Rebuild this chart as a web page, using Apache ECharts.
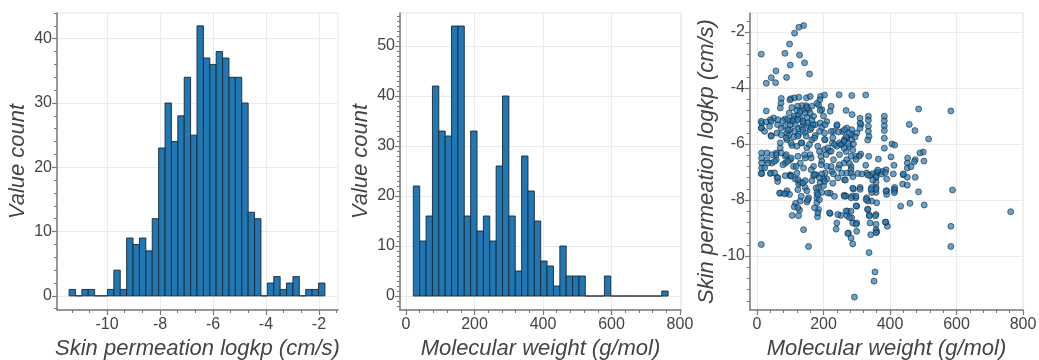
<!DOCTYPE html>
<html>
<head>
<meta charset="utf-8">
<script src="https://cdn.jsdelivr.net/npm/echarts@6/dist/echarts.min.js"></script>
<style>
html, body { margin: 0; background: #fff; }
#chart { width: 1039px; height: 360px; }
</style>
</head>
<body>
<div id="chart"></div>
<script>
// histogram 1: skin permeation logkp, 40 bins
var logkpBinStart = -11.434;
var logkpBinWidth = 0.2415;
var logkpCounts = [1, 0, 1, 1, 0, 0, 1, 4, 1, 9, 8, 9, 7, 12, 23, 30, 24, 28, 34, 25,
  42, 37, 36, 38, 37, 34, 34, 30, 13, 12, 0, 2, 3, 1, 2, 3, 0, 1, 1, 2];

// histogram 2: molecular weight, 40 bins
var mwBinStart = 21.4;
var mwBinWidth = 18.6;
var mwCounts = [22, 11, 16, 42, 33, 32, 54, 54, 16, 33, 13, 16, 11, 26, 40, 16, 5, 28, 21, 15,
  7, 6, 2, 10, 4, 4, 4, 0, 0, 0, 4, 0, 0, 0, 0, 0, 0, 0, 0, 1];

// scatter: [molecular weight, logkp]
var scatterPoints = [
  [140,-1.77],[126,-1.83],[113,-2.04],[98,-2.43],[13,-2.79],[84,-2.76],[128,-2.82],[100,-3.18],[143,-3.1],[57,-3.39],
  [158,-3.5],[43,-3.63],[89,-3.62],[28,-3.83],[56,-3.81],
  [73,-4.37],[102,-4.38],[113,-4.35],[126,-4.33],[149,-4.35],[160,-4.3],[191,-4.3],[203,-4.25],[247,-4.24],[285,-4.27],
  [327,-4.25],[189,-4.42],[185,-4.6],[72,-4.54],[70,-4.71],[28,-4.82],[99,-4.42],[195,-4.77],[223,-4.65],[220,-4.83],
  [268,-4.8],[286,-4.95],[310,-5.08],[313,-5.3],[335,-5.01],[335,-5.15],[335,-5.37],[335,-5.55],[337,-5.73],[383,-5.01],
  [383,-5.17],[383,-5.35],[383,-5.52],[383,-5.79],[383,-6.15],[406,-6.0],[414,-6.04],[486,-4.75],[583,-4.82],[458,-5.3],
  [475,-5.52],[516,-5.82],[500,-6.29],[490,-6.32],[453,-6.5],[452,-6.68],[452,-6.86],[476,-6.56],[502,-6.61],[440,-7.1],
  [412,-6.76],[403,-6.46],[388,-6.92],[377,-6.98],[362,-7.01],[347,-7.06],[330,-7.04],[336,-6.44],[365,-6.54],[327,-6.76],
  [312,-6.36],[297,-6.44],[283,-6.44],[270,-6.56],[270,-7.04],[262,-6.68],[283,-6.8],[283,-6.92],[283,-7.04],[240,-5.35],
  [230,-5.55],[257,-5.55],[270,-5.43],[270,-5.79],[285,-5.49],[285,-5.67],[285,-5.85],[300,-5.61],[255,-6.02],[240,-6.08],
  [227,-5.96],[218,-6.26],[205,-5.85],[203,-6.2],[192,-6.44],[175,-5.7],[160,-5.49],[165,-5.85],[150,-6.14],[135,-5.96],
  [120,-6.08],[105,-6.05],[90,-5.85],[90,-5.61],[83,-5.37],[100,-5.49],[98,-5.19],[97,-4.89],[112,-5.01],[125,-4.95],
  [140,-4.77],[155,-4.77],[148,-4.63],[135,-4.63],[122,-4.65],[170,-5.01],[175,-5.31],[62,-5.31],[50,-5.07],[40,-5.13],
  [14,-5.25],[14,-5.43],[42,-5.7],[60,-5.61],[70,-5.96],[70,-6.14],[58,-6.32],[14,-6.32],[14,-6.5],[14,-6.68],
  [14,-6.86],[14,-7.06],[30,-6.32],[30,-6.56],[45,-6.38],[45,-6.68],[58,-6.56],[42,-7.04],[85,-6.44],[85,-6.68],
  [100,-6.56],[110,-6.8],[130,-6.68],[145,-6.5],[160,-6.38],[140,-6.86],[120,-7.04],[100,-7.1],[170,-6.8],[178,-7.1],
  [195,-6.62],[210,-6.8],[225,-6.98],[230,-6.56],[245,-6.86],[255,-7.04],[205,-7.04],
  [120,-4.8],[130,-4.85],[145,-4.9],[160,-4.9],[110,-5.1],[130,-5.1],[150,-5.05],[165,-5.15],[115,-5.3],[140,-5.25],
  [155,-5.35],[125,-5.45],[105,-4.7],[150,-4.7],[165,-4.65],[135,-5.4],[145,-5.6],[125,-5.65],[110,-5.75],[100,-5.3],
  [85,-5.1],[95,-5.7],[180,-4.55],[190,-4.8],[200,-5.0],[210,-5.2],[190,-5.25],[195,-5.4],
  [13,-7.05],[40,-7.05],[60,-7.19],[62,-7.34],[70,-7.76],[88,-7.76],[90,-7.67],[98,-7.8],[85,-7.13],[100,-7.13],
  [115,-7.25],[125,-7.43],[130,-7.37],[145,-7.31],[145,-7.55],[150,-7.67],[155,-7.92],[150,-8.07],[130,-8.04],[116,-8.12],
  [112,-8.24],[128,-8.36],[106,-8.55],[140,-9.06],[155,-9.66],[13,-9.59],[180,-7.73],[180,-7.92],[180,-8.1],[185,-8.34],
  [182,-8.6],[195,-7.73],[200,-7.49],[210,-7.25],[220,-7.76],[228,-7.4],[220,-8.48],[240,-8.82],[238,-9.04],[252,-8.55],
  [263,-7.28],[270,-8.55],[272,-8.4],[275,-9.18],[283,-9.36],[288,-9.57],[283,-8.4],[285,-8.64],[288,-8.82],[300,-8.82],
  [300,-9.12],[300,-8.22],[297,-7.92],[287,-7.86],[262,-7.83],[290,-7.61],[310,-7.55],[330,-7.92],[333,-8.34],[338,-8.54],
  [340,-8.82],[342,-9.24],[337,-9.88],[355,-10.57],[352,-10.9],[293,-11.47],[358,-9.06],[360,-9.14],[358,-8.52],[345,-8.04],
  [360,-8.1],[358,-7.73],[358,-7.55],[358,-7.37],[358,-7.19],[345,-7.55],[345,-7.73],[388,-8.8],[392,-8.94],[390,-7.67],
  [390,-7.8],[414,-7.55],[414,-7.67],[438,-7.43],[452,-7.19],[452,-7.47],[476,-7.19],[486,-7.71],[432,-8.22],[460,-8.12],
  [503,-8.18],[588,-7.64],[583,-8.94],[583,-9.66],[763,-8.42],[375,-7.07],[390,-7.25],[410,-7.07],[440,-7.07],[315,-7.07],
  [340,-7.13],[230,-7.07],[195,-7.07],[170,-7.13],[165,-7.31],[190,-7.37],[185,-7.55],[200,-7.25],[360,-7.01],
  [268,-7.86],[283,-7.92],[298,-7.86],[298,-8.21],[268,-8.39],[278,-8.63],[298,-8.87],[273,-9.2],[333,-8.04],[333,-8.33],
  [338,-8.57],[356,-8.57],[358,-8.87],[358,-9.17],[386,-8.79],[413,-7.62],[413,-7.74],[388,-7.68],[358,-7.62],[343,-7.62],
  [328,-7.98],[310,-7.62],
  [13,-5.19],[28,-5.21],[43,-5.19],[63,-5.13],[78,-5.17],[93,-5.13],[108,-5.17],[123,-5.13],[138,-5.19],[153,-5.25],
  [168,-5.31],[205,-5.31],[241,-5.31],[13,-5.43],[38,-5.37],[73,-5.43],[93,-5.49],[113,-5.55],[138,-5.49],[163,-5.43],
  [188,-5.55],[203,-5.61],[223,-5.55],[245,-5.57],[263,-5.49],[23,-5.55],[43,-5.72],[73,-5.67],[88,-5.78],[123,-5.72],
  [148,-5.72],[173,-5.78],[203,-5.84],[228,-5.78],[248,-5.96],[263,-5.84],[103,-5.96],[133,-5.96],[158,-6.02],[183,-6.08],
  [213,-6.14],[233,-6.02],[253,-6.02],[58,-6.38],[73,-6.32],[88,-6.38],[103,-6.5],[123,-6.44],[143,-6.38],[163,-6.5],
  [188,-6.26],[208,-6.38],[223,-6.26],[248,-6.38],[23,-6.86],[33,-6.68],[53,-6.62],[78,-6.74],[93,-6.62],[118,-6.8],
  [163,-6.92],[193,-6.74],[223,-6.8],[248,-6.74],[53,-7.03],[63,-7.21],[103,-7.15],[123,-7.27],[138,-7.39],[173,-7.09],
  [188,-7.21],[203,-7.33],[243,-7.21],[68,-7.75],[83,-7.78],[123,-7.63],[133,-7.87],[153,-7.99],[178,-7.57],[183,-7.81],
  [188,-7.99],[213,-7.75],[233,-7.87],[263,-7.87],[123,-8.28],[173,-8.28],[183,-8.46],[218,-8.46],[243,-8.52],[125,-8.56],
  [310,-5.26],[310,-5.44],[333,-5.86],[473,-6.63],[463,-6.81],[288,-7.58],[266,-7.29],[288,-7.17],[303,-7.05],[333,-7.11],
  [363,-6.93],[386,-7.02],[308,-6.43],[298,-6.55],[278,-6.69],[278,-5.62],[268,-5.74],[278,-6.09],[268,-6.27],[288,-6.21],
  [358,-7.17],[348,-7.29],[262,-5.9],[275,-6.0],[290,-6.0],[262,-6.15],[295,-5.75]
];

// axis tick values
var logkpTicks = [-10, -8, -6, -4, -2];
var countTicks1 = [0, 10, 20, 30, 40];
var countTicks2 = [0, 10, 20, 30, 40, 50];
var mwTicks = [0, 200, 400, 600, 800];
var logkpTicksY = [-10, -8, -6, -4, -2];

var FONT = '"Liberation Sans", Arial, Helvetica, sans-serif';
var AXIS_COLOR = '#7a7a7a';
var LABEL_COLOR = '#444';

function minorTicks(first, step, last, majors) {
  var out = [];
  for (var v = first; v <= last + 1e-9; v += step) {
    var r = Math.round(v * 1000) / 1000;
    if (majors.indexOf(r) < 0) out.push(r);
  }
  return out;
}

function histBins(start, width, counts) {
  return counts.map(function (c, i) {
    return [start + i * width, start + (i + 1) * width, c];
  });
}

function histItem(params, api) {
  var top = api.coord([api.value(0), api.value(2)]);
  var base = api.coord([api.value(1), 0]);
  return {
    type: 'rect',
    shape: { x: top[0], y: top[1], width: base[0] - top[0], height: base[1] - top[1] },
    style: { fill: '#1f77b4', stroke: '#1c2833', lineWidth: 0.9 }
  };
}

function mainAxis(dim, grid, min, max, ticks, name, nameGap) {
  return {
    type: 'value',
    gridIndex: grid,
    position: dim === 'x' ? 'bottom' : 'left',
    min: min,
    max: max,
    name: name,
    nameLocation: 'middle',
    nameGap: nameGap,
    nameTextStyle: { fontFamily: FONT, fontSize: 22, fontStyle: 'italic', color: '#444' },
    axisLine: { onZero: false, lineStyle: { color: AXIS_COLOR, width: 1.5 } },
    axisTick: { customValues: ticks, length: 5, lineStyle: { color: AXIS_COLOR, width: 1.2 } },
    axisLabel: { customValues: ticks, margin: dim === 'x' ? 7 : 5, color: LABEL_COLOR, fontSize: 16, fontFamily: FONT },
    splitLine: { show: true, lineStyle: { color: '#ebebeb', width: 1 } }
  };
}

function minorAxis(dim, grid, min, max, ticks) {
  return {
    type: 'value',
    gridIndex: grid,
    position: dim === 'x' ? 'bottom' : 'left',
    min: min,
    max: max,
    axisLine: { show: false, onZero: false },
    axisTick: { customValues: ticks, length: 3, lineStyle: { color: AXIS_COLOR, width: 1 } },
    axisLabel: { show: false },
    splitLine: { show: false }
  };
}

var chart = echarts.init(document.getElementById('chart'));

var gridStyle = {
  show: true, borderColor: '#e6e6e6', borderWidth: 1,
  top: 13, height: 297, containLabel: false, outerBoundsMode: 'none'
};

chart.setOption({
  animation: false,
  grid: [
    Object.assign({ left: 57, width: 281 }, gridStyle),
    Object.assign({ left: 400, width: 281 }, gridStyle),
    Object.assign({ left: 750, width: 273 }, gridStyle)
  ],
  xAxis: [
    mainAxis('x', 0, -11.89, -1.28, logkpTicks, 'Skin permeation logkp (cm/s)', 26),
    mainAxis('x', 1, -17.5, 803, mwTicks, 'Molecular weight (g/mol)', 26),
    mainAxis('x', 2, -21, 800, mwTicks, 'Molecular weight (g/mol)', 26),
    minorAxis('x', 0, -11.89, -1.28, minorTicks(-11.333, 2 / 3, -1.3, logkpTicks)),
    minorAxis('x', 1, -17.5, 803, minorTicks(40, 40, 800, mwTicks)),
    minorAxis('x', 2, -21, 800, minorTicks(40, 40, 800, mwTicks))
  ],
  yAxis: [
    mainAxis('y', 0, -2.2, 44, countTicks1, 'Value count', 28),
    mainAxis('y', 1, -2.8, 56.6, countTicks2, 'Value count', 28),
    mainAxis('y', 2, -11.93, -1.32, logkpTicksY, 'Skin permeation logkp (cm/s)', 32),
    minorAxis('y', 0, -2.2, 44, minorTicks(-2, 2, 44, countTicks1)),
    minorAxis('y', 1, -2.8, 56.6, minorTicks(-2, 1, 56, countTicks2)),
    minorAxis('y', 2, -11.93, -1.32, minorTicks(-11.6, 0.4, -1.4, logkpTicksY))
  ],
  series: [
    {
      type: 'custom',
      xAxisIndex: 0,
      yAxisIndex: 0,
      renderItem: histItem,
      encode: { x: [0, 1], y: 2 },
      data: histBins(logkpBinStart, logkpBinWidth, logkpCounts)
    },
    {
      type: 'custom',
      xAxisIndex: 1,
      yAxisIndex: 1,
      renderItem: histItem,
      encode: { x: [0, 1], y: 2 },
      data: histBins(mwBinStart, mwBinWidth, mwCounts)
    },
    {
      type: 'scatter',
      xAxisIndex: 2,
      yAxisIndex: 2,
      symbolSize: 6,
      itemStyle: { color: 'rgba(31,119,180,0.85)', borderColor: 'rgba(20,30,40,0.9)', borderWidth: 0.8 },
      data: scatterPoints
    }
  ]
});
</script>
</body>
</html>
